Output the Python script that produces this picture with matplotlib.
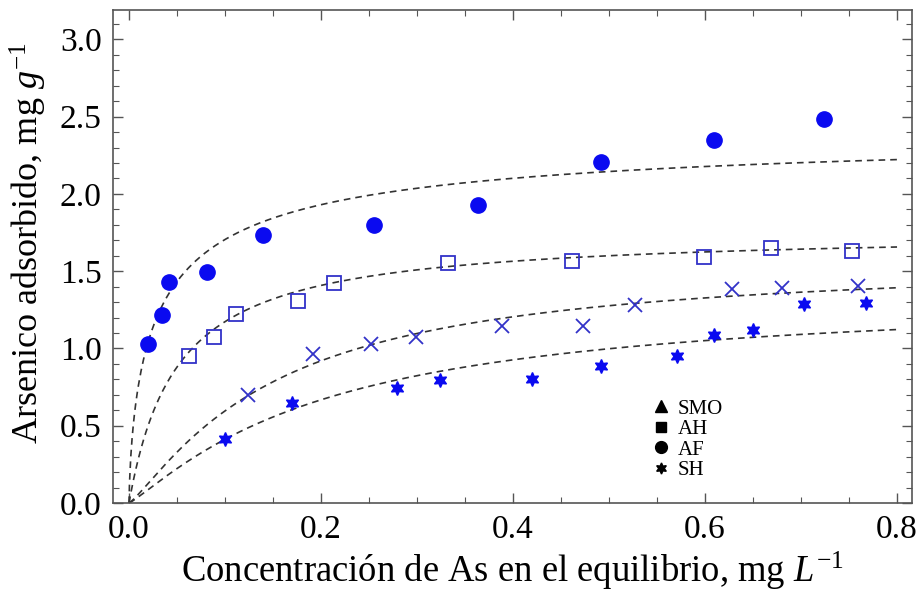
import numpy as np
import matplotlib
matplotlib.use("Agg")
import matplotlib.pyplot as plt
from matplotlib.lines import Line2D
from matplotlib.ticker import MultipleLocator

plt.rcParams['font.family'] = ['Liberation Serif', 'DejaVu Serif']
plt.rcParams['mathtext.fontset'] = 'custom'
plt.rcParams['mathtext.rm'] = 'Liberation Serif'
plt.rcParams['mathtext.it'] = 'Liberation Serif:italic'

# ---- data ----
af_x = [0.020, 0.034, 0.042, 0.081, 0.140, 0.255, 0.363, 0.492, 0.609, 0.724]
af_y = [1.032, 1.215, 1.429, 1.496, 1.733, 1.800, 1.925, 2.208, 2.348, 2.482]

ah_x = [0.062, 0.089, 0.111, 0.176, 0.213, 0.332, 0.461, 0.599, 0.669, 0.753]
ah_y = [0.950, 1.073, 1.226, 1.306, 1.425, 1.550, 1.565, 1.595, 1.649, 1.632]

smo_x = [0.124, 0.192, 0.252, 0.299, 0.388, 0.473, 0.527, 0.628, 0.680, 0.759]
smo_y = [0.701, 0.967, 1.027, 1.073, 1.148, 1.148, 1.282, 1.384, 1.392, 1.407]

sh_x = [0.100, 0.170, 0.279, 0.324, 0.420, 0.492, 0.571, 0.609, 0.650, 0.703, 0.768]
sh_y = [0.414, 0.645, 0.743, 0.794, 0.805, 0.889, 0.950, 1.084, 1.118, 1.289, 1.295]

# fitted isotherm parameters (Sips form q = Q*b*c^n / (1 + b*c^n))
fit_names = ['AF', 'AH', 'SMO', 'SH']
fit_Q = [2.448, 1.76, 1.583, 1.358]
fit_b = [11.5, 20.0, 9.57, 6.157]
fit_n = [0.70, 1.00, 1.20, 1.15]

legend_labels = ['SMO', 'AH', 'AF', 'SH']
x_ticks = [0.0, 0.2, 0.4, 0.6, 0.8]
y_ticks = [0.0, 0.5, 1.0, 1.5, 2.0, 2.5, 3.0]

# ---- figure ----
fig = plt.figure(figsize=(9.2, 5.97), dpi=100)
ax = fig.add_axes([112.7 / 920, 1 - 503 / 597, (912 - 112.7) / 920, (503 - 10) / 597])

cgrid = np.linspace(0.0005, 0.8, 600)
for Q, b, n in zip(fit_Q, fit_b, fit_n):
    u = cgrid ** n
    q = Q * b * u / (1 + b * u)
    ax.plot(np.concatenate([[0], cgrid]), np.concatenate([[0], q]),
            color='#333333', lw=1.2, dashes=(4, 3), zorder=2)

blue = '#0a0af0'
blue2 = '#3232c8'
star6 = (6, 1, 0)
ax.plot(af_x, af_y, 'o', color=blue, ms=11, mec=blue, zorder=3)
ax.plot(ah_x, ah_y, 's', mfc='none', mec=blue2, mew=1.3, ms=10.5, zorder=3)
ax.plot(smo_x, smo_y, 'x', color=blue2, mew=1.3, ms=10.5, zorder=3)
ax.plot(sh_x, sh_y, marker=star6, ls='none', color=blue, ms=10, zorder=3)

ax.set_xlim(-0.017, 0.8156)
ax.set_ylim(0.0, 3.19)
ax.set_xticks(x_ticks)
ax.set_yticks(y_ticks)
ax.set_xticklabels([f'{v:.1f}' for v in x_ticks])
ax.set_yticklabels([f'{v:.1f}' for v in y_ticks])
ax.xaxis.set_minor_locator(MultipleLocator(0.05))
ax.yaxis.set_minor_locator(MultipleLocator(0.1))
ax.tick_params(which='both', direction='in', top=True, right=True,
               colors='#555555', labelcolor='black', labelsize=24)
ax.tick_params(which='major', length=7, width=1.0, pad=8)
ax.tick_params(which='minor', length=4, width=0.8)
for s in ax.spines.values():
    s.set_color('#555555')
    s.set_linewidth(1.2)

ax.set_xlabel(r'Concentración de As en el equilibrio, mg $\mathit{L}^{-1}$', fontsize=26.4, labelpad=4)
ax.set_ylabel(r'Arsenico adsorbido, mg $\mathit{g}^{-1}$', fontsize=26)
ax.yaxis.set_label_coords(-0.08, 0.527)

handles = [
    Line2D([], [], ls='none', marker='^', color='black', ms=8),
    Line2D([], [], ls='none', marker='s', color='black', ms=7.5),
    Line2D([], [], ls='none', marker='o', color='black', ms=8.5),
    Line2D([], [], ls='none', marker=star6, color='black', ms=8),
]
ax.legend(handles, legend_labels, loc='upper left', bbox_to_anchor=(0.665, 0.228),
          frameon=False, fontsize=15, handlelength=0.8, handletextpad=0.4,
          labelspacing=0.05, borderaxespad=0)

fig.savefig('out.png', dpi=100)
